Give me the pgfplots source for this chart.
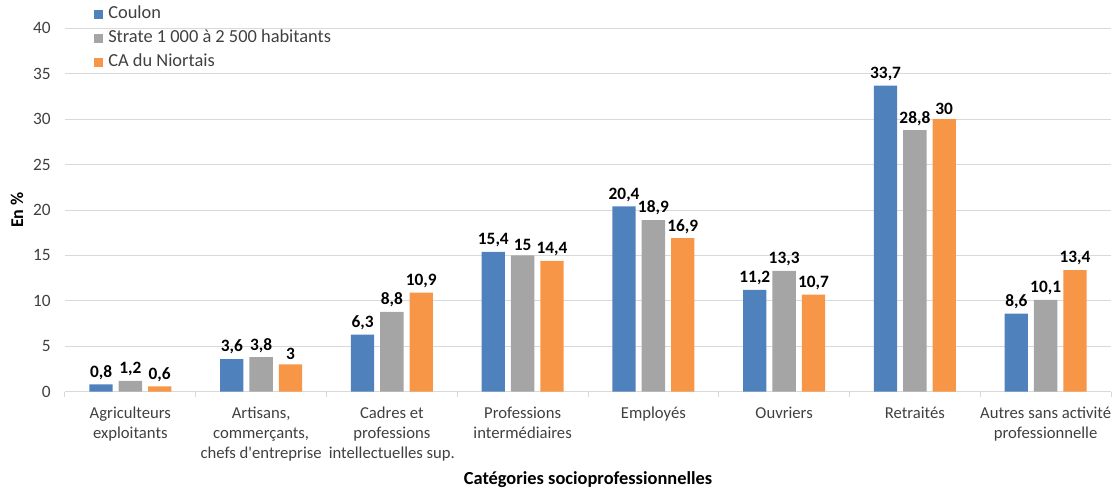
\documentclass[border=0pt]{standalone}
\usepackage{pgfplots}
\pgfplotsset{compat=1.18}
\usepackage{fontspec}
\setmainfont{Carlito}[Ligatures=TeXOff]
\definecolor{cblue}{HTML}{4F81BD}
\definecolor{cgray}{HTML}{A5A5A5}
\definecolor{corange}{HTML}{F79646}
\definecolor{gridgray}{HTML}{D9D9D9}
\definecolor{txt}{HTML}{404040}
\begin{document}
\begin{tikzpicture}
\path[use as bounding box] (-48.75pt,-73.7pt) rectangle (791.25pt,293.8pt);
\begin{axis}[
  at={(0,0)}, anchor=south west,
  scale only axis, width=784.5pt, height=272.55pt,
  xmin=-0.5, xmax=7.5, ymin=0, ymax=40,
  ytick={0,5,...,40},
  ymajorgrids, grid style={draw=gridgray, line width=0.75pt},
  axis x line*=bottom, axis y line*=left,
  y axis line style={draw=none},
  x axis line style={draw=gridgray, line width=0.75pt},
  ytick style={draw=none},
  xtick={0,...,7},
  major x tick style={draw=none},
  minor xtick={-0.5,0.5,...,7.5},
  minor x tick style={draw=gridgray, line width=0.75pt},
  xtick align=outside,
  minor tick length=3.75pt,
  major tick length=0pt,
  clip=false,
  ybar,
  bar width=0.178,
  /pgf/number format/use comma,
  /pgf/number format/assume math mode=true,
  ticklabel style={text=txt},
  yticklabel style={anchor=east, inner sep=0pt, xshift=-10.5pt, font=\fontsize{13}{15}\selectfont},
  xticklabel style={align=center, anchor=north, inner sep=0pt, yshift=-11.5pt, font=\fontsize{12.5}{15}\selectfont},
  xticklabels={{Agriculteurs\\exploitants},{Artisans,\\commerçants,\\chefs d'entreprise},{Cadres et\\professions\\intellectuelles sup.},{Professions\\intermédiaires},{Employés},{Ouvriers},{Retraités},{Autres sans activité\\professionnelle}},
  nodes near coords,
  nodes near coords style={font=\bfseries\fontsize{13}{15}\selectfont, text=black},
  ylabel={\bfseries En \%},
  ylabel style={at={(axis description cs:-0.0459,0.5)}, anchor=center, font=\fontsize{13.5}{15}\selectfont},
  xlabel={\bfseries Catégories socioprofessionnelles},
  xlabel style={at={(axis description cs:0.5,-0.242)}, anchor=center, font=\fontsize{13.8}{15}\selectfont},
  legend style={at={(axis description cs:0.0277,1.063)}, anchor=north west, draw=none, fill=none,
    font=\fontsize{13.8}{15}\selectfont, text=txt, inner sep=0pt,
    nodes={inner sep=0pt, text height=9.5pt, text depth=3pt}, row sep=5.5pt,
    /tikz/every odd column/.append style={column sep=3.75pt}},
  legend cell align=left,
  legend image code/.code={\fill[#1] (0pt,-3.4pt) rectangle (6.8pt,3.4pt);},
]
\addplot[fill=cblue, draw=none, bar shift=-0.224] coordinates {(0,0.8) (1,3.6) (2,6.3) (3,15.4) (4,20.4) (5,11.2) (6,33.7) (7,8.6)};
\addplot[fill=cgray, draw=none, bar shift=0] coordinates {(0,1.2) (1,3.8) (2,8.8) (3,15) (4,18.9) (5,13.3) (6,28.8) (7,10.1)};
\addplot[fill=corange, draw=none, bar shift=0.224] coordinates {(0,0.6) (1,3) (2,10.9) (3,14.4) (4,16.9) (5,10.7) (6,30) (7,13.4)};
\legend{Coulon, Strate 1 000 à 2 500 habitants, CA du Niortais}
\end{axis}
\end{tikzpicture}
\end{document}
